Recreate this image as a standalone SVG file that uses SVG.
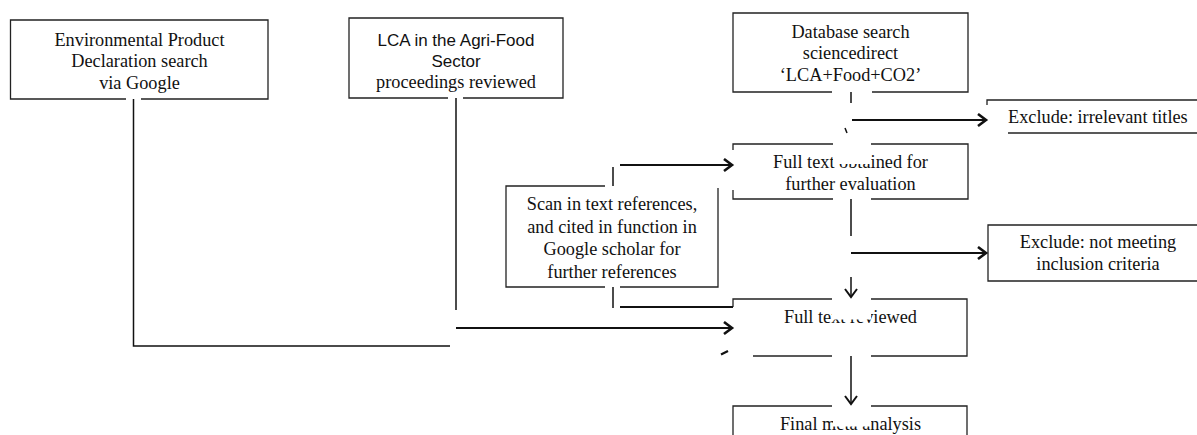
<svg xmlns="http://www.w3.org/2000/svg" width="1197" height="435" viewBox="0 0 1197 435">
<defs>
<style>
.b{fill:none;stroke:#222;stroke-width:1.3}
.t{font-family:"Liberation Serif","Times New Roman",serif;font-size:18.3px;fill:#111;text-anchor:middle}
.s{font-family:"Liberation Sans",Arial,sans-serif;font-size:17px;fill:#111;text-anchor:middle}
.c{fill:none;stroke:#111;stroke-width:1.5}
.a{fill:none;stroke:#111;stroke-width:2.2}
.p{fill:#fff;stroke:none}
</style>
<marker id="ah" markerUnits="userSpaceOnUse" markerWidth="12" markerHeight="16" refX="9" refY="7" orient="auto">
<path d="M1,1 L9,7 L1,13" fill="none" stroke="#111" stroke-width="2.6"/>
</marker>
<marker id="ad" markerUnits="userSpaceOnUse" markerWidth="14" markerHeight="14" refX="9" refY="7" orient="auto">
<path d="M1,1 L9,7 L1,13" fill="none" stroke="#111" stroke-width="2"/>
</marker>
</defs>
<rect width="1197" height="435" fill="#fff"/>

<g id="epd">
<path class="b" d="M126,99 H10.5 V20 H268 V99 H141"/>
<text class="t" x="139.5" y="45.5">Environmental Product</text>
<text class="t" x="139.5" y="67">Declaration search</text>
<text class="t" x="139.5" y="88.5">via Google</text>
</g>

<g id="lca">
<path class="b" d="M448,98 H349 V18 H563 V98 H463"/>
<text class="s" x="456" y="45.5">LCA in the Agri-Food</text>
<text class="s" x="456" y="66.5">Sector</text>
<text class="t" x="456" y="87.5">proceedings reviewed</text>
</g>

<g id="db">
<path class="b" d="M832,92 H733 V13 H968 V92 H872"/>
<text class="t" x="850.5" y="37.5">Database search</text>
<text class="t" x="850.5" y="59">sciencedirect</text>
<text class="t" x="850.5" y="81">‘LCA+Food+CO2’</text>
</g>

<g id="excl1">
<path class="b" d="M987,105 V100 H1197"/>
<path class="b" d="M1008,133 H1197"/>
<text class="t" x="1008" y="123" style="text-anchor:start">Exclude: irrelevant titles</text>
</g>

<g id="fulltext">
<path class="b" d="M733,150 V144 H833"/>
<path class="b" d="M871,144 H968 V199 H871"/>
<path class="b" d="M833,199 H733 V190"/>
<text class="t" x="850.5" y="168">Full text obtained for</text>
<text class="t" x="850.5" y="189.5">further evaluation</text>
</g>

<g id="scan">
<path class="b" d="M605,186 H506 V287 H605"/>
<path class="b" d="M620,287 H718 V188"/>
<text class="t" x="612" y="210">Scan in text references,</text>
<text class="t" x="612" y="232.5">and cited in function in</text>
<text class="t" x="612" y="255">Google scholar for</text>
<text class="t" x="612" y="277.5">further references</text>
</g>

<g id="excl2">
<path class="b" d="M1197,225 H988 V281 H1197"/>
<text class="t" x="1098" y="248">Exclude: not meeting</text>
<text class="t" x="1098" y="270">inclusion criteria</text>
</g>

<g id="reviewed">
<path class="b" d="M733,307 V299 H832"/>
<path class="b" d="M871,299 H967 V356 H871"/>
<path class="b" d="M832,356 H753"/>
<text class="t" x="850.5" y="323">Full text reviewed</text>
</g>

<g id="final">
<path class="b" d="M733,435 V406 H832"/>
<path class="b" d="M871,406 H967 V435"/>
<text class="t" x="850.5" y="430">Final meta analysis</text>
</g>

<g id="patches">
<rect class="p" x="833" y="149" width="38" height="15"/>
<rect class="p" x="832" y="300" width="39" height="19.5"/>
<rect class="p" x="833" y="407" width="38" height="19.5"/>
</g>

<g id="connectors">
<path class="c" d="M133.5,99 V346 H450"/>
<path class="a" d="M721,354.5 L728,351"/>
<path class="c" d="M456,98 V310"/>
<path class="a" d="M456,328 H732" marker-end="url(#ah)"/>
<path class="c" d="M613,287 V308"/>
<path class="a" d="M620,307 H733" style="stroke-width:1.8"/>
<path class="c" d="M613,167 V186"/>
<path class="a" d="M620,165 H732" marker-end="url(#ah)"/>
<path class="c" d="M851,92 V103"/>
<path class="a" d="M852,120 H986" marker-end="url(#ah)"/>
<path class="c" d="M845,128 L847,133"/>
<path class="c" d="M851,199 V236"/>
<path class="a" d="M851,253 H986" marker-end="url(#ah)"/>
<path class="c" d="M851,277 V297" marker-end="url(#ad)"/>
<path class="c" d="M851,356 V404" marker-end="url(#ad)"/>
</g>
</svg>
